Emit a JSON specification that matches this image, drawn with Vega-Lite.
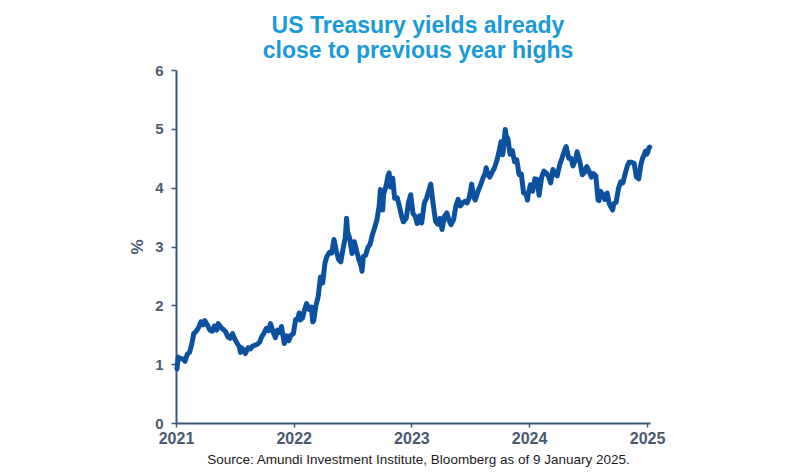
{
  "$schema": "https://vega.github.io/schema/vega-lite/v6.json",
  "autosize": {"type": "none"},
  "width": 474,
  "height": 353,
  "padding": {"left": 176, "top": 70, "right": 150, "bottom": 53},
  "background": "white",
  "config": {"view": {"stroke": null}, "font": "Liberation Sans"},
  "title": {
    "text": ["US Treasury yields already", "close to previous year highs"],
    "anchor": "middle",
    "dx": 5,
    "dy": 6,
    "fontSize": 23,
    "fontWeight": "bold",
    "color": "#1a9ad6",
    "lineHeight": 25,
    "offset": 6,
    "font": "Liberation Sans"
  },
  "data": {
    "values": [
      {"date": "2021-01-04", "yield": 0.92}, {"date": "2021-01-08", "yield": 1.12}, {"date": "2021-01-15", "yield": 1.09},
      {"date": "2021-01-22", "yield": 1.09}, {"date": "2021-01-29", "yield": 1.05}, {"date": "2021-02-05", "yield": 1.17},
      {"date": "2021-02-12", "yield": 1.20}, {"date": "2021-02-19", "yield": 1.34}, {"date": "2021-02-25", "yield": 1.52},
      {"date": "2021-03-05", "yield": 1.56}, {"date": "2021-03-12", "yield": 1.62}, {"date": "2021-03-19", "yield": 1.72},
      {"date": "2021-03-26", "yield": 1.67}, {"date": "2021-03-31", "yield": 1.74}, {"date": "2021-04-09", "yield": 1.66},
      {"date": "2021-04-16", "yield": 1.58}, {"date": "2021-04-23", "yield": 1.56}, {"date": "2021-04-30", "yield": 1.65},
      {"date": "2021-05-07", "yield": 1.58}, {"date": "2021-05-12", "yield": 1.69}, {"date": "2021-05-21", "yield": 1.62},
      {"date": "2021-05-28", "yield": 1.59}, {"date": "2021-06-04", "yield": 1.55}, {"date": "2021-06-11", "yield": 1.46},
      {"date": "2021-06-18", "yield": 1.44}, {"date": "2021-06-25", "yield": 1.52}, {"date": "2021-07-02", "yield": 1.43},
      {"date": "2021-07-09", "yield": 1.36}, {"date": "2021-07-16", "yield": 1.30}, {"date": "2021-07-20", "yield": 1.20},
      {"date": "2021-07-23", "yield": 1.28}, {"date": "2021-07-30", "yield": 1.24}, {"date": "2021-08-04", "yield": 1.18},
      {"date": "2021-08-13", "yield": 1.28}, {"date": "2021-08-20", "yield": 1.26}, {"date": "2021-08-27", "yield": 1.31},
      {"date": "2021-09-03", "yield": 1.32}, {"date": "2021-09-10", "yield": 1.34}, {"date": "2021-09-17", "yield": 1.37},
      {"date": "2021-09-24", "yield": 1.47}, {"date": "2021-09-30", "yield": 1.52}, {"date": "2021-10-08", "yield": 1.61},
      {"date": "2021-10-15", "yield": 1.57}, {"date": "2021-10-21", "yield": 1.69}, {"date": "2021-10-29", "yield": 1.55},
      {"date": "2021-11-05", "yield": 1.45}, {"date": "2021-11-12", "yield": 1.58}, {"date": "2021-11-19", "yield": 1.54},
      {"date": "2021-11-24", "yield": 1.64}, {"date": "2021-12-03", "yield": 1.35}, {"date": "2021-12-10", "yield": 1.48},
      {"date": "2021-12-17", "yield": 1.40}, {"date": "2021-12-23", "yield": 1.49}, {"date": "2021-12-31", "yield": 1.52},
      {"date": "2022-01-07", "yield": 1.76}, {"date": "2022-01-14", "yield": 1.78}, {"date": "2022-01-18", "yield": 1.87},
      {"date": "2022-01-21", "yield": 1.75}, {"date": "2022-01-28", "yield": 1.78}, {"date": "2022-02-04", "yield": 1.93},
      {"date": "2022-02-10", "yield": 2.03}, {"date": "2022-02-18", "yield": 1.93}, {"date": "2022-02-25", "yield": 1.97},
      {"date": "2022-03-01", "yield": 1.72}, {"date": "2022-03-04", "yield": 1.74}, {"date": "2022-03-11", "yield": 2.00},
      {"date": "2022-03-18", "yield": 2.15}, {"date": "2022-03-25", "yield": 2.48}, {"date": "2022-04-01", "yield": 2.38},
      {"date": "2022-04-08", "yield": 2.72}, {"date": "2022-04-14", "yield": 2.83}, {"date": "2022-04-22", "yield": 2.90},
      {"date": "2022-04-29", "yield": 2.89}, {"date": "2022-05-06", "yield": 3.12}, {"date": "2022-05-13", "yield": 2.93},
      {"date": "2022-05-20", "yield": 2.78}, {"date": "2022-05-27", "yield": 2.74}, {"date": "2022-06-03", "yield": 2.96},
      {"date": "2022-06-10", "yield": 3.15}, {"date": "2022-06-14", "yield": 3.48}, {"date": "2022-06-17", "yield": 3.25},
      {"date": "2022-06-24", "yield": 3.13}, {"date": "2022-07-01", "yield": 2.88}, {"date": "2022-07-08", "yield": 3.08},
      {"date": "2022-07-15", "yield": 2.93}, {"date": "2022-07-22", "yield": 2.78}, {"date": "2022-07-29", "yield": 2.67},
      {"date": "2022-08-01", "yield": 2.58}, {"date": "2022-08-05", "yield": 2.83}, {"date": "2022-08-12", "yield": 2.85},
      {"date": "2022-08-19", "yield": 2.98}, {"date": "2022-08-26", "yield": 3.04}, {"date": "2022-09-02", "yield": 3.20},
      {"date": "2022-09-09", "yield": 3.32}, {"date": "2022-09-16", "yield": 3.45}, {"date": "2022-09-23", "yield": 3.69},
      {"date": "2022-09-27", "yield": 3.97}, {"date": "2022-09-30", "yield": 3.83}, {"date": "2022-10-04", "yield": 3.62},
      {"date": "2022-10-07", "yield": 3.89}, {"date": "2022-10-14", "yield": 4.02}, {"date": "2022-10-21", "yield": 4.21},
      {"date": "2022-10-24", "yield": 4.25}, {"date": "2022-10-28", "yield": 4.01}, {"date": "2022-11-04", "yield": 4.16},
      {"date": "2022-11-10", "yield": 3.82}, {"date": "2022-11-18", "yield": 3.83}, {"date": "2022-11-25", "yield": 3.68},
      {"date": "2022-12-02", "yield": 3.51}, {"date": "2022-12-07", "yield": 3.42}, {"date": "2022-12-16", "yield": 3.48},
      {"date": "2022-12-23", "yield": 3.75}, {"date": "2022-12-30", "yield": 3.88},
      {"date": "2023-01-06", "yield": 3.56}, {"date": "2023-01-13", "yield": 3.51}, {"date": "2023-01-19", "yield": 3.39},
      {"date": "2023-01-27", "yield": 3.52}, {"date": "2023-02-02", "yield": 3.40}, {"date": "2023-02-10", "yield": 3.74},
      {"date": "2023-02-17", "yield": 3.82}, {"date": "2023-02-24", "yield": 3.95}, {"date": "2023-03-02", "yield": 4.06},
      {"date": "2023-03-10", "yield": 3.70}, {"date": "2023-03-17", "yield": 3.43}, {"date": "2023-03-24", "yield": 3.38},
      {"date": "2023-03-31", "yield": 3.48}, {"date": "2023-04-06", "yield": 3.29}, {"date": "2023-04-14", "yield": 3.52},
      {"date": "2023-04-21", "yield": 3.57}, {"date": "2023-04-28", "yield": 3.44}, {"date": "2023-05-04", "yield": 3.37},
      {"date": "2023-05-12", "yield": 3.46}, {"date": "2023-05-19", "yield": 3.69}, {"date": "2023-05-26", "yield": 3.80},
      {"date": "2023-06-02", "yield": 3.69}, {"date": "2023-06-09", "yield": 3.74}, {"date": "2023-06-16", "yield": 3.77},
      {"date": "2023-06-23", "yield": 3.74}, {"date": "2023-06-30", "yield": 3.84}, {"date": "2023-07-07", "yield": 4.06},
      {"date": "2023-07-14", "yield": 3.83}, {"date": "2023-07-18", "yield": 3.79}, {"date": "2023-07-21", "yield": 3.84},
      {"date": "2023-07-28", "yield": 3.96}, {"date": "2023-08-04", "yield": 4.05}, {"date": "2023-08-11", "yield": 4.16},
      {"date": "2023-08-18", "yield": 4.25}, {"date": "2023-08-21", "yield": 4.34}, {"date": "2023-08-25", "yield": 4.24},
      {"date": "2023-09-01", "yield": 4.18}, {"date": "2023-09-08", "yield": 4.26}, {"date": "2023-09-15", "yield": 4.33},
      {"date": "2023-09-22", "yield": 4.44}, {"date": "2023-09-29", "yield": 4.59}, {"date": "2023-10-06", "yield": 4.78},
      {"date": "2023-10-11", "yield": 4.56}, {"date": "2023-10-13", "yield": 4.63}, {"date": "2023-10-19", "yield": 4.99},
      {"date": "2023-10-23", "yield": 4.86}, {"date": "2023-10-27", "yield": 4.84}, {"date": "2023-11-03", "yield": 4.57},
      {"date": "2023-11-10", "yield": 4.63}, {"date": "2023-11-17", "yield": 4.44}, {"date": "2023-11-24", "yield": 4.47},
      {"date": "2023-12-01", "yield": 4.22}, {"date": "2023-12-08", "yield": 4.23}, {"date": "2023-12-15", "yield": 3.91},
      {"date": "2023-12-22", "yield": 3.90}, {"date": "2023-12-27", "yield": 3.79}, {"date": "2023-12-29", "yield": 3.88},
      {"date": "2024-01-05", "yield": 4.05}, {"date": "2024-01-12", "yield": 3.94}, {"date": "2024-01-19", "yield": 4.15},
      {"date": "2024-01-26", "yield": 4.14}, {"date": "2024-02-01", "yield": 3.87}, {"date": "2024-02-09", "yield": 4.18},
      {"date": "2024-02-16", "yield": 4.28}, {"date": "2024-02-23", "yield": 4.25}, {"date": "2024-03-01", "yield": 4.19},
      {"date": "2024-03-08", "yield": 4.08}, {"date": "2024-03-15", "yield": 4.31}, {"date": "2024-03-22", "yield": 4.22},
      {"date": "2024-03-28", "yield": 4.20}, {"date": "2024-04-05", "yield": 4.39}, {"date": "2024-04-12", "yield": 4.50},
      {"date": "2024-04-19", "yield": 4.62}, {"date": "2024-04-25", "yield": 4.70}, {"date": "2024-05-03", "yield": 4.50},
      {"date": "2024-05-10", "yield": 4.50}, {"date": "2024-05-16", "yield": 4.37}, {"date": "2024-05-24", "yield": 4.47},
      {"date": "2024-05-29", "yield": 4.61}, {"date": "2024-06-07", "yield": 4.43}, {"date": "2024-06-14", "yield": 4.22},
      {"date": "2024-06-21", "yield": 4.26}, {"date": "2024-06-28", "yield": 4.36}, {"date": "2024-07-05", "yield": 4.28},
      {"date": "2024-07-12", "yield": 4.18}, {"date": "2024-07-19", "yield": 4.24}, {"date": "2024-07-26", "yield": 4.20},
      {"date": "2024-08-02", "yield": 3.79}, {"date": "2024-08-05", "yield": 3.78}, {"date": "2024-08-09", "yield": 3.94},
      {"date": "2024-08-16", "yield": 3.89}, {"date": "2024-08-23", "yield": 3.80}, {"date": "2024-08-30", "yield": 3.91},
      {"date": "2024-09-06", "yield": 3.72}, {"date": "2024-09-13", "yield": 3.65}, {"date": "2024-09-16", "yield": 3.62},
      {"date": "2024-09-20", "yield": 3.73}, {"date": "2024-09-27", "yield": 3.75}, {"date": "2024-10-04", "yield": 3.98},
      {"date": "2024-10-11", "yield": 4.10}, {"date": "2024-10-18", "yield": 4.08}, {"date": "2024-10-25", "yield": 4.24},
      {"date": "2024-11-01", "yield": 4.37}, {"date": "2024-11-06", "yield": 4.43}, {"date": "2024-11-15", "yield": 4.43},
      {"date": "2024-11-22", "yield": 4.41}, {"date": "2024-11-29", "yield": 4.18}, {"date": "2024-12-06", "yield": 4.15},
      {"date": "2024-12-13", "yield": 4.40}, {"date": "2024-12-18", "yield": 4.50}, {"date": "2024-12-20", "yield": 4.52},
      {"date": "2024-12-27", "yield": 4.62}, {"date": "2024-12-31", "yield": 4.57}, {"date": "2025-01-03", "yield": 4.60},
      {"date": "2025-01-07", "yield": 4.68}, {"date": "2025-01-09", "yield": 4.69}
    ]
  },
  "mark": {"type": "line", "color": "#0c50a0", "strokeWidth": 5, "strokeJoin": "round", "strokeCap": "round", "clip": false},
  "encoding": {
    "x": {
      "field": "date",
      "type": "temporal",
      "scale": {"type": "utc", "domain": ["2021-01-01", "2025-01-10"]},
      "axis": {
        "values": ["2021-01-01", "2022-01-01", "2023-01-01", "2024-01-01", "2025-01-01"],
        "format": "%Y",
        "grid": false,
        "domainColor": "#3b5576",
        "domainWidth": 2,
        "tickColor": "#3b5576",
        "tickWidth": 1.5,
        "tickSize": 4,
        "labelFont": "Liberation Sans",
        "labelFontSize": 16,
        "labelFontWeight": "bold",
        "labelColor": "#4a5a70",
        "labelPadding": 3,
        "labelFlush": false,
        "labelOverlap": false,
        "labelBound": false,
        "title": "Source: Amundi Investment Institute, Bloomberg as of 9 January 2025.",
        "titleFont": "Liberation Sans",
        "titleFontSize": 13.5,
        "titleFontWeight": "normal",
        "titleColor": "#1a1a1a",
        "titlePadding": 6,
        "titleX": 242
      }
    },
    "y": {
      "field": "yield",
      "type": "quantitative",
      "scale": {"domain": [0, 6], "nice": false, "zero": true},
      "axis": {
        "values": [0, 1, 2, 3, 4, 5, 6],
        "grid": false,
        "domainColor": "#3b5576",
        "domainWidth": 2,
        "tickColor": "#3b5576",
        "tickWidth": 1.5,
        "tickSize": 5,
        "labelFont": "Liberation Sans",
        "labelFontSize": 15,
        "labelFontWeight": "bold",
        "labelColor": "#4a5a70",
        "labelPadding": 8,
        "title": "%",
        "titleFont": "Liberation Sans",
        "titleFontSize": 17,
        "titleFontWeight": "bold",
        "titleColor": "#4a5a70",
        "titlePadding": 8
      }
    }
  }
}
